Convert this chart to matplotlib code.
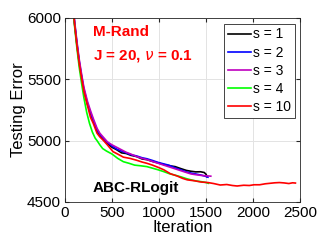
import matplotlib
matplotlib.use('Agg')
import matplotlib.pyplot as plt

plt.rcParams['font.family'] = ['Liberation Sans', 'DejaVu Sans']

# testing error curves
it_s1 = [80, 100, 125, 150, 175, 200, 240, 270, 300, 340, 370, 410, 450, 500, 550, 600, 650, 700, 760,
         820, 870, 930, 990, 1050, 1110, 1170, 1230, 1290, 1340, 1390, 1440, 1480, 1500, 1510]
err_s1 = [6150, 5960, 5790, 5640, 5520, 5410, 5290, 5225, 5160, 5080, 5045, 5005, 4975, 4945, 4925, 4900,
          4895, 4880, 4870, 4850, 4845, 4830, 4818, 4805, 4795, 4788, 4772, 4757, 4750, 4745, 4746, 4740, 4725, 4705]

it_s2 = [80, 100, 125, 150, 175, 200, 240, 270, 300, 340, 370, 410, 450, 500, 550, 600, 650, 700, 760,
         820, 870, 930, 990, 1050, 1110, 1170, 1230, 1290, 1340, 1390, 1440, 1480, 1520]
err_s2 = [6160, 5970, 5800, 5650, 5530, 5420, 5300, 5230, 5165, 5090, 5050, 5015, 4985, 4955, 4930, 4915,
          4900, 4885, 4875, 4860, 4852, 4838, 4822, 4810, 4798, 4778, 4762, 4745, 4735, 4728, 4720, 4712, 4702]

it_s3 = [80, 100, 125, 150, 175, 200, 240, 270, 300, 340, 370, 410, 450, 500, 550, 600, 650, 700, 760,
         820, 870, 930, 990, 1050, 1110, 1170, 1230, 1290, 1340, 1390, 1440, 1480, 1520, 1550]
err_s3 = [6170, 5985, 5815, 5665, 5545, 5435, 5315, 5245, 5180, 5100, 5060, 5025, 4990, 4965, 4945, 4925,
          4905, 4890, 4870, 4855, 4845, 4830, 4815, 4800, 4785, 4770, 4755, 4740, 4728, 4722, 4717, 4714, 4712, 4710]

it_s4 = [80, 100, 125, 150, 175, 200, 230, 260, 290, 320, 340, 370, 400, 440, 500, 560, 620, 680, 740,
         800, 870, 930, 990, 1050, 1110, 1170, 1230, 1290, 1340, 1400, 1450, 1490, 1525]
err_s4 = [6140, 5940, 5760, 5600, 5470, 5350, 5230, 5140, 5070, 5020, 5000, 4965, 4935, 4915, 4890, 4855,
          4828, 4815, 4800, 4795, 4788, 4775, 4762, 4747, 4730, 4718, 4705, 4690, 4680, 4670, 4665, 4660, 4652]

it_s10 = [80, 100, 125, 150, 175, 200, 240, 270, 300, 340, 370, 410, 450, 510, 560, 620, 690, 760, 820,
          870, 930, 990, 1050, 1120, 1190, 1250, 1300, 1380, 1450, 1520, 1580, 1650, 1720, 1780, 1830,
          1900, 1960, 2010, 2070, 2130, 2180, 2230, 2280, 2330, 2380, 2420, 2450]
err_s10 = [6150, 5955, 5780, 5630, 5510, 5400, 5280, 5190, 5140, 5060, 5030, 5000, 4965, 4910, 4890, 4865,
           4855, 4840, 4825, 4815, 4800, 4782, 4762, 4730, 4712, 4692, 4680, 4672, 4662, 4658, 4650, 4638,
           4642, 4634, 4630, 4636, 4634, 4640, 4640, 4648, 4652, 4656, 4658, 4655, 4650, 4656, 4654]

series = [(it_s1, err_s1, 'k', 's = 1'),
          (it_s2, err_s2, 'b', 's = 2'),
          (it_s3, err_s3, 'm', 's = 3'),
          (it_s4, err_s4, '#00ff00', 's = 4'),
          (it_s10, err_s10, 'r', 's = 10')]

xticks = [0, 500, 1000, 1500, 2000, 2500]
yticks = [4500, 5000, 5500, 6000]

fig = plt.figure(figsize=(3.32, 2.49), dpi=100)
ax = fig.add_axes([0.196, 0.189, 0.708, 0.739])

for it, err, col, lab in series:
    ax.plot(it, err, color=col, lw=1.2, label=lab)

ax.set_xlim(0, 2500)
ax.set_ylim(4500, 6000)
ax.set_xticks(xticks)
ax.set_yticks(yticks)
ax.tick_params(direction='in', top=True, right=True, labelsize=11, length=3, color='#262626', pad=3)
ax.grid(True, color='#e3e3e3', lw=0.7)
ax.set_axisbelow(True)
for sp in ax.spines.values():
    sp.set_color('#262626')
    sp.set_linewidth(0.6)

ax.set_xlabel('Iteration', fontsize=12, labelpad=0)
ax.set_ylabel('Testing Error', fontsize=12, labelpad=1)

ax.text(0.119, 0.924, 'M-Rand', transform=ax.transAxes, color='r', fontsize=11,
        fontweight='bold', va='center', ha='left')
ax.text(0.119, 0.793, r'J = 20, $\nu$ = 0.1', transform=ax.transAxes, color='r', fontsize=11,
        fontweight='bold', va='center', ha='left')
ax.text(0.119, 0.078, 'ABC-RLogit', transform=ax.transAxes, color='k', fontsize=11,
        fontweight='bold', va='center', ha='left')

leg = ax.legend(loc='upper right', bbox_to_anchor=(0.977, 0.967), fontsize=10, fancybox=False,
                framealpha=1, edgecolor='#262626', handlelength=1.7, handletextpad=0.15,
                labelspacing=0.3, borderpad=0.25, borderaxespad=0)
leg.get_frame().set_linewidth(0.6)

fig.savefig('out.png', dpi=100)
